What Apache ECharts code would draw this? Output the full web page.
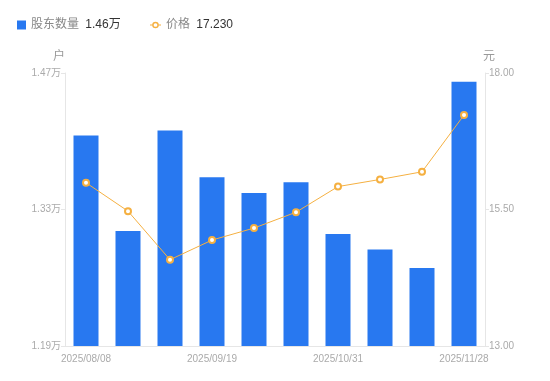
<!DOCTYPE html>
<html><head><meta charset="utf-8">
<script src="https://cdn.jsdelivr.net/npm/echarts@6/dist/echarts.min.js"></script>
<style>html,body{margin:0;padding:0;background:#fff}#c{width:550px;height:381px}</style>
</head><body><div id="c"></div>
<script>
var categories = ['2025/08/08','2025/08/20','2025/08/29','2025/09/19','2025/09/30','2025/10/20','2025/10/31','2025/11/10','2025/11/20','2025/11/28'];
var holders = [14060, 13080, 14110, 13630, 13470, 13580, 13050, 12890, 12700, 14610];
var prices = [15.99, 15.47, 14.58, 14.94, 15.16, 15.45, 15.92, 16.05, 16.19, 17.23];
var leftTicks = [11900, 13300, 14700];
var rightTicks = [13, 15.5, 18];

var FONT = '"Liberation Sans", "Noto Sans CJK SC", sans-serif';
var legendText = {fontSize: 12, color: '#888', fontFamily: FONT,
  rich: {v: {color: '#333', fontSize: 12, padding: [0,0,0,3], fontFamily: FONT}}};
function legendFmt(n) {
  if (n === '股东数量') return n + ' {v|' + (holders[holders.length-1]/10000).toFixed(2) + '万}';
  return n + ' {v|' + prices[prices.length-1].toFixed(3) + '}';
}
var lineIcon = 'path://M0,4.5h2.6v1h-2.6z M7.4,4.5h2.6v1h-2.6z M5,2a3,3 0 1,1 -0.01,0z M5,3.3a1.7,1.7 0 1,0 0.01,0z';
var chart = echarts.init(document.getElementById('c'));
chart.setOption({
  animation: false,
  textStyle: {fontFamily: FONT},
  legend: [{
    left: 12, top: 14, itemWidth: 9, itemHeight: 9,
    textStyle: legendText, formatter: legendFmt,
    data: [{name: '股东数量', icon: 'rect'}]
  }, {
    left: 145, top: 14, itemWidth: 11, itemHeight: 9,
    textStyle: legendText, formatter: legendFmt,
    data: [{name: '价格', icon: lineIcon, itemStyle: {color: '#f5b041', borderWidth: 0}}]
  }],
  grid: {left: 65, right: 65, top: 73, bottom: 35},
  xAxis: {
    type: 'category', data: categories,
    axisLine: {lineStyle: {color: '#e6e6e6'}},
    axisTick: {show: false},
    axisLabel: {color: '#aaa', fontSize: 10, interval: 2, margin: 8}
  },
  yAxis: [{
    type: 'value', min: leftTicks[0], max: leftTicks[2], interval: leftTicks[1]-leftTicks[0],
    name: '户', nameGap: 10, nameTextStyle: {color: '#999', fontSize: 12, padding: [0, 12, 0, 0]},
    axisLine: {show: true, lineStyle: {color: '#e6e6e6'}},
    axisTick: {show: true, length: 4, lineStyle: {color: '#e6e6e6'}},
    splitLine: {show: false},
    axisLabel: {color: '#aaa', fontSize: 10, margin: 4, formatter: function (v) { return (v/10000).toFixed(2) + '万'; }}
  }, {
    type: 'value', min: rightTicks[0], max: rightTicks[2], interval: rightTicks[1]-rightTicks[0],
    name: '元', nameGap: 10, nameTextStyle: {color: '#999', fontSize: 12, padding: [0, 0, 0, 8]},
    axisLine: {show: true, lineStyle: {color: '#e6e6e6'}},
    axisTick: {show: true, length: 4, lineStyle: {color: '#e6e6e6'}},
    splitLine: {show: false},
    axisLabel: {color: '#aaa', fontSize: 10, margin: 4, formatter: function (v) { return v.toFixed(2); }}
  }],
  series: [{
    name: '股东数量', type: 'bar', data: holders, barWidth: 25,
    itemStyle: {color: '#2878f0'}
  }, {
    name: '价格', type: 'line', yAxisIndex: 1, data: prices,
    symbol: 'emptyCircle', symbolSize: 6,
    lineStyle: {color: '#f5b041', width: 1},
    itemStyle: {color: '#f5b041', borderWidth: 2}
  }]
});
</script></body></html>
